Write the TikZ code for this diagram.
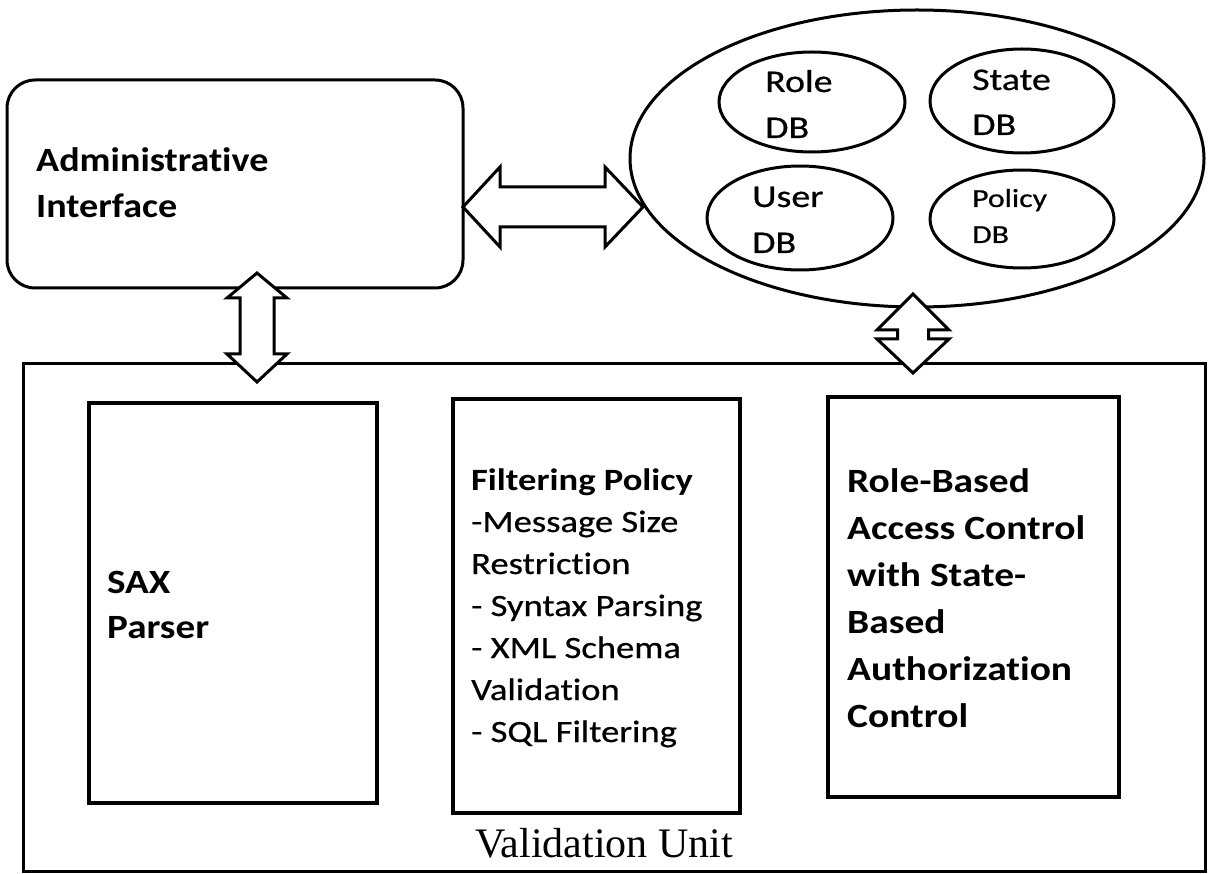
\documentclass[tikz,border=0pt]{standalone}
\usepackage{fontspec}
\setmainfont{Liberation Serif}
\usetikzlibrary{shapes.geometric,calc}
\newcommand\calf[3]{\fontspec{Carlito}[FakeStretch=#1,Ligatures=NoCommon]\fontsize{#2}{#3}\selectfont}
\newcommand\calr[3]{\fontspec{Carlito}[FakeStretch=#1,FakeBold=0.6,Ligatures=NoCommon]\fontsize{#2}{#3}\selectfont}
\begin{document}
\begin{tikzpicture}[x=1pt,y=-1pt,
  lw/.style={line width=3pt},
  boxst/.style={draw,lw,inner sep=0pt},
  dbell/.style={draw,ellipse,lw,inner sep=0pt},
  txt/.style={inner sep=0pt,anchor=base west},
  dblarrow/.style={draw,lw,fill=white,line join=miter}]
\useasboundingbox (0,0) rectangle (1218,874);

% database ellipse
\node[dbell,minimum width=574pt,minimum height=297pt] (dbs) at (917,158.5) {};
\node[dbell,minimum width=186pt,minimum height=100pt] (role) at (812,102) {};
\node[dbell,minimum width=184pt,minimum height=104pt] (state) at (1022,101) {};
\node[dbell,minimum width=186pt,minimum height=104pt] (user) at (800,218) {};
\node[dbell,minimum width=184pt,minimum height=98pt] (policy) at (1022,219) {};

\node[txt,font=\calr{1.2}{31.6}{46}] (roleT) at (765,92) {\vtop{\hbox{Role}\hbox{DB}}};
\node[txt,font=\calr{1.2}{31.6}{45}] (stateT) at (972,90) {\vtop{\hbox{State}\hbox{DB}}};
\node[txt,font=\calr{1.2}{31.6}{46}] (userT) at (752,207) {\vtop{\hbox{User}\hbox{DB}}};
\node[txt,font=\calr{1.22}{26}{36}] (policyT) at (972,207) {\vtop{\hbox{Policy}\hbox{DB}}};

% administrative interface
\node[boxst,rounded corners=28pt,minimum width=456pt,minimum height=208pt] (admin) at (235,184) {};
\node[txt,font=\calf{1.12}{34}{46}\bfseries] (adminT) at (36,172) {\vtop{\hbox{Administrative}\hbox{Interface}}};

% validation unit
\node[boxst,minimum width=1182pt,minimum height=507pt] (vu) at (614,617.5) {};
\node[boxst,line width=3.5pt,minimum width=288pt,minimum height=400pt] (sax) at (233,603) {};
\node[boxst,line width=3.5pt,minimum width=287pt,minimum height=414pt] (filt) at (596.5,606) {};
\node[boxst,line width=3.5pt,minimum width=291pt,minimum height=400pt] (rbac) at (973.5,597) {};

\node[txt,font=\calf{1.15}{34}{45}\bfseries] (saxT) at (107,593) {\vtop{\hbox{SAX}\hbox{Parser}}};
\node[txt,font=\calr{1.18}{31}{42}] (filtT) at (471,490) {\vtop{\hbox{\calf{1.18}{31}{42}\bfseries Filtering Policy}\hbox{-Message Size}\hbox{Restriction}\hbox{- Syntax Parsing}\hbox{- XML Schema}\hbox{Validation}\hbox{- SQL Filtering}}};
\node[txt,font=\calf{1.16}{34}{47}\bfseries] (rbacT) at (847,492) {\vtop{\hbox{Role-Based}\hbox{Access Control}\hbox{with State-}\hbox{Based}\hbox{Authorization}\hbox{Control}}};
\node[txt,font=\fontsize{42}{50}\selectfont] (vuT) at (475,857) {Validation Unit};

% double arrows
\coordinate (hl) at (463,207);
\coordinate (hr) at (643,207);
\draw[dblarrow] (hl) -- ++(37,-40) -- ++(0,20) -- ($(hr)+(-38,-20)$) -- ++(0,-20) -- (hr)
  -- ++(-38,40) -- ++(0,-20) -- ($(hl)+(37,20)$) -- ++(0,20) -- cycle;

\coordinate (vt) at (257,273);
\coordinate (vb) at (257,382);
\draw[dblarrow] (vt) -- ++(30,25) -- ++(-13,0) -- ($(vb)+(17,-28)$) -- ++(13,0) -- (vb)
  -- ++(-30,-28) -- ++(13,0) -- ($(vt)+(-17,25)$) -- ++(-13,0) -- cycle;

\coordinate (rt) at (913,294);
\coordinate (rb) at (913,373);
\draw[dblarrow] (rt) -- ++(36,36) -- ++(-20.5,0) -- ($(rb)+(15.5,-34)$) -- ++(20.5,0) -- (rb)
  -- ++(-36,-34) -- ++(20.5,0) -- ($(rt)+(-15.5,36)$) -- ++(-20.5,0) -- cycle;
\end{tikzpicture}
\end{document}
